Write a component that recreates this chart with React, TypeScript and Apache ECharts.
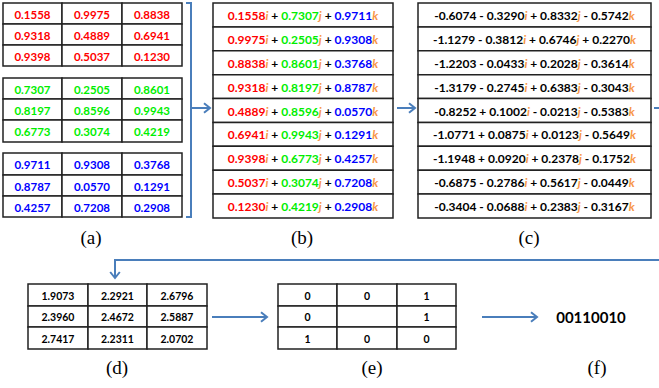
import React, { useEffect, useRef } from "react";
import * as echarts from "echarts";

// ---- data ----
const redM = [
  [0.1558, 0.9975, 0.8838],
  [0.9318, 0.4889, 0.6941],
  [0.9398, 0.5037, 0.123],
];
const greenM = [
  [0.7307, 0.2505, 0.8601],
  [0.8197, 0.8596, 0.9943],
  [0.6773, 0.3074, 0.4219],
];
const blueM = [
  [0.9711, 0.9308, 0.3768],
  [0.8787, 0.057, 0.1291],
  [0.4257, 0.7208, 0.2908],
];
// quaternions after transform: [real, i, j, k]
const quatRows = [
  [-0.6074, -0.329, 0.8332, -0.5742],
  [-1.1279, -0.3812, 0.6746, 0.227],
  [-1.2203, -0.0433, 0.2028, -0.3614],
  [-1.3179, -0.2745, 0.6383, -0.3043],
  [-0.8252, 0.1002, -0.0213, -0.5383],
  [-1.0771, 0.0875, 0.0123, -0.5649],
  [-1.1948, 0.092, 0.2378, -0.1752],
  [-0.6875, -0.2786, 0.5617, -0.0449],
  [-0.3404, -0.0688, 0.2383, -0.3167],
];
const normM = [
  [1.9073, 2.2921, 2.6796],
  [2.396, 2.4672, 2.5887],
  [2.7417, 2.2311, 2.0702],
];
const bitM = [
  ["0", "0", "1"],
  ["0", "", "1"],
  ["1", "0", "0"],
];
const codeText = "00110010";
const panelLabels = ["(a)", "(b)", "(c)", "(d)", "(e)", "(f)"];

// ---- styles ----
const RED = "#FF0000";
const GREEN = "#00EE00";
const BLUE = "#0000FF";
const ORANGE = "#F79646";
const ARROW = "#4A7EBB";
const BORDER = "#222";
const FONT = '"Lato", "Open Sans", sans-serif';
const SERIF = '"Liberation Serif", "DejaVu Serif", serif';

const f4 = (v: number) => v.toFixed(4);

function gridTable(
  colXs: number[],
  rowYs: number[],
  cells: { text: string; color: string; size: number }[][]
) {
  const els: any[] = [];
  for (let r = 0; r < rowYs.length - 1; r++) {
    for (let c = 0; c < colXs.length - 1; c++) {
      els.push({
        type: "rect",
        shape: {
          x: colXs[c],
          y: rowYs[r],
          width: colXs[c + 1] - colXs[c],
          height: rowYs[r + 1] - rowYs[r],
        },
        style: { fill: "#fff", stroke: BORDER, lineWidth: 1.5 },
        z: 1,
      });
      const cell = cells[r][c];
      if (cell && cell.text !== "") {
        els.push({
          type: "text",
          style: {
            text: cell.text,
            x: (colXs[c] + colXs[c + 1]) / 2,
            y: (rowYs[r] + rowYs[r + 1]) / 2 + 0.5,
            fill: cell.color,
            font: `bold ${cell.size}px ${FONT}`,
            align: "center",
            verticalAlign: "middle",
          },
          z: 2,
        });
      }
    }
  }
  return els;
}

function richRows(x0: number, x1: number, rowYs: number[], texts: string[], rich: any) {
  const els: any[] = [];
  for (let r = 0; r < texts.length; r++) {
    els.push({
      type: "rect",
      shape: { x: x0, y: rowYs[r], width: x1 - x0, height: rowYs[r + 1] - rowYs[r] },
      style: { fill: "#fff", stroke: BORDER, lineWidth: 1.5 },
      z: 1,
    });
    els.push({
      type: "text",
      style: {
        text: texts[r],
        x: (x0 + x1) / 2,
        y: (rowYs[r] + rowYs[r + 1]) / 2 + 0.5,
        align: "center",
        verticalAlign: "middle",
        rich,
      },
      z: 2,
    });
  }
  return els;
}

function arrowHead(x: number, y: number, dir: "right" | "down", s = 6) {
  const pts =
    dir === "right"
      ? [
          [x - s, y - s * 0.8],
          [x, y],
          [x - s, y + s * 0.8],
        ]
      : [
          [x - s * 0.8, y - s],
          [x, y],
          [x + s * 0.8, y - s],
        ];
  return {
    type: "polyline",
    shape: { points: pts },
    style: { stroke: ARROW, lineWidth: 2, fill: null },
    z: 3,
  };
}

function line(x1: number, y1: number, x2: number, y2: number) {
  return {
    type: "line",
    shape: { x1, y1, x2, y2 },
    style: { stroke: ARROW, lineWidth: 2 },
    z: 3,
  };
}

function buildOption() {
  const els: any[] = [];

  // (a) three colour matrices
  const aCols = [3, 62, 122, 182];
  const aGroups = [
    { m: redM, color: RED, ys: [3, 24, 45, 66] },
    { m: greenM, color: GREEN, ys: [78, 99, 120, 142] },
    { m: blueM, color: BLUE, ys: [153, 175, 196, 217] },
  ];
  aGroups.forEach((g) => {
    els.push(
      ...gridTable(
        aCols,
        g.ys,
        g.m.map((row) => row.map((v) => ({ text: f4(v), color: g.color, size: 11.5 })))
      )
    );
  });

  // bracket
  els.push({
    type: "polyline",
    shape: { points: [[186, 3], [191, 3], [191, 217], [186, 217]] },
    style: { stroke: ARROW, lineWidth: 2, fill: null },
    z: 3,
  });
  els.push(line(191, 108, 209, 108), arrowHead(210, 108, "right"));

  // (b) pure quaternions
  const rowYs: number[] = [];
  for (let r = 0; r <= 9; r++) rowYs.push(3 + (r * (218 - 3)) / 9);
  const bTexts: string[] = [];
  for (let r = 0; r < 3; r++)
    for (let c = 0; c < 3; c++)
      bTexts.push(
        `{r|${f4(redM[r][c])}}{o|i}{p| + }{g|${f4(greenM[r][c])}}{o|j}{p| + }{b|${f4(
          blueM[r][c]
        )}}{o|k}`
      );
  const bFont = `bold 12px ${FONT}`;
  const bRich = {
    r: { fill: RED, font: bFont },
    g: { fill: GREEN, font: bFont },
    b: { fill: BLUE, font: bFont },
    p: { fill: "#000", font: bFont },
    o: { fill: ORANGE, font: `italic bold 12px ${FONT}` },
  };
  els.push(...richRows(213, 393, rowYs, bTexts, bRich));
  els.push(line(397, 108, 414, 108), arrowHead(415, 108, "right"));

  // (c) full quaternions
  const sgn = (v: number) => (v < 0 ? " - " : " + ");
  const cTexts = quatRows.map(
    (q) =>
      `{t|${f4(q[0])}${sgn(q[1])}${f4(Math.abs(q[1]))}}{o|i}{t|${sgn(q[2])}${f4(
        Math.abs(q[2])
      )}}{o|j}{t|${sgn(q[3])}${f4(Math.abs(q[3]))}}{o|k}`
  );
  const cFont = `bold 12px ${FONT}`;
  const cRich = {
    t: { fill: "#000", font: cFont },
    o: { fill: ORANGE, font: `italic bold 12px ${FONT}` },
  };
  els.push(...richRows(418, 651, rowYs, cTexts, cRich));

  // connector c -> d
  els.push(line(654, 108, 659, 108));
  els.push(line(659, 260, 115, 260), line(115, 259, 115, 277), arrowHead(115, 278, "down"));

  // (d)
  const dRows = [284, 306, 327, 349];
  els.push(
    ...gridTable(
      [28, 88, 147, 207],
      dRows,
      normM.map((row) => row.map((v) => ({ text: f4(v), color: "#000", size: 10.5 })))
    )
  );
  els.push(line(212, 317, 266, 317), arrowHead(267, 317, "right"));

  // (e)
  els.push(
    ...gridTable(
      [278, 337, 397, 456],
      dRows,
      bitM.map((row) => row.map((v) => ({ text: v, color: "#000", size: 10.5 })))
    )
  );
  els.push(line(482, 317, 536, 317), arrowHead(537, 317, "right"));

  // (f)
  els.push({
    type: "text",
    style: {
      text: codeText,
      x: 591,
      y: 317,
      fill: "#000",
      font: `bold 15px ${FONT}`,
      align: "center",
      verticalAlign: "middle",
    },
    z: 2,
  });

  // labels
  const labelPos = [
    [91, 237],
    [302, 237],
    [529, 237],
    [117, 367],
    [372, 367],
    [597, 367],
  ];
  panelLabels.forEach((t, i) => {
    els.push({
      type: "text",
      style: {
        text: t,
        x: labelPos[i][0],
        y: labelPos[i][1],
        fill: "#000",
        font: `19px ${SERIF}`,
        align: "center",
        verticalAlign: "middle",
      },
      z: 2,
    });
  });

  return {
    animation: false,
    backgroundColor: "#fff",
    graphic: { elements: els },
  };
}

export default function App() {
  const ref = useRef<HTMLDivElement>(null);
  useEffect(() => {
    document.body.style.margin = "0";
    if (!ref.current) return;
    const chart = echarts.init(ref.current, undefined, { renderer: "svg" });
    chart.setOption(buildOption() as any);
    return () => chart.dispose();
  }, []);
  return <div ref={ref} style={{ width: 659, height: 388 }} />;
}
